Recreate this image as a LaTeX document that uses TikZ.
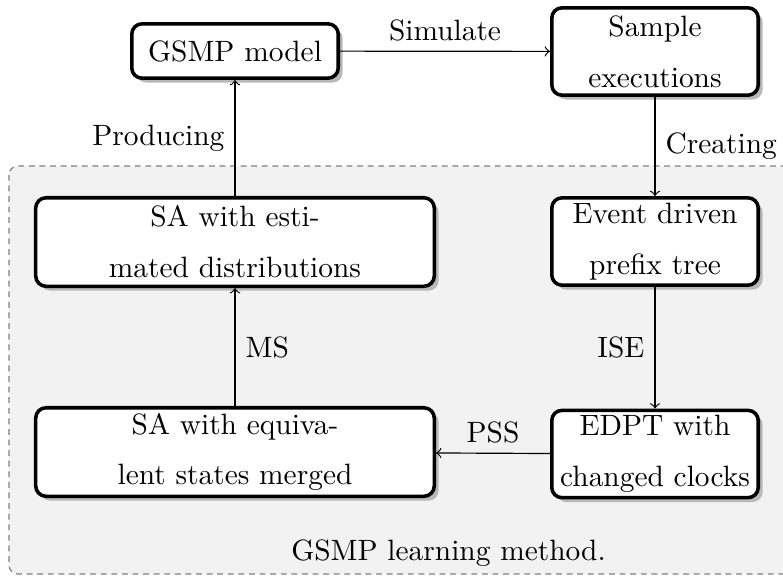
\documentclass[tikz,border=0pt]{standalone}
\usetikzlibrary{shadows}
\begin{document}
\begin{tikzpicture}[x=0.34pt,y=-0.34pt,
  box/.style={draw=black, line width=1.2pt, rounded corners=3.5pt, fill=white,
    align=center, inner sep=0pt,
    font=\fontsize{10}{17.3}\selectfont,
    drop shadow={shadow xshift=1.5pt, shadow yshift=-1.5pt, fill=black!28, opacity=1}},
  smallbox/.style={box, minimum width=70.2pt, minimum height=29.7pt},
  largebox/.style={box, minimum width=135.5pt, minimum height=30.1pt},
  conn/.style={->, line width=0.4pt},
  lbl/.style={font=\fontsize{10}{12}\selectfont, inner sep=3.4pt},
  group/.style={draw=gray, fill=gray!10, dash pattern=on 2pt off 1.6pt, line width=0.4pt, rounded corners=3pt}]
\useasboundingbox (0,0) rectangle (783,575);
\begin{scope}
\clip (0,0) rectangle (783,575);
\draw[group] (9,166) rectangle (810,574);
\end{scope}
\node[lbl] (title) at (448.5,553) {GSMP learning method.};

\node[box, minimum width=70.2pt, minimum height=18.5pt] (gsmp) at (235,51) {GSMP model};
\node[smallbox] (sample) at (655,51.5) {Sample\\executions};
\node[smallbox] (edpt) at (655,241.5) {Event driven\\prefix tree};
\node[smallbox] (chg) at (655,454) {EDPT with\\changed clocks};
\node[largebox] (merged) at (235,452) {SA with equiva-\\lent states merged};
\node[largebox] (est) at (235,242) {SA with esti-\\mated distributions};

\draw[conn] (gsmp) -- node[lbl, above] (l1) {Simulate} (sample);
\draw[conn] (sample) -- node[lbl, right] (l2) {Creating} (edpt);
\draw[conn] (edpt) -- node[lbl, left] (l3) {ISE} (chg);
\draw[conn] (chg) -- node[lbl, above] (l4) {PSS} (merged);
\draw[conn] (merged) -- node[lbl, right] (l5) {MS} (est);
\draw[conn] (est) -- node[lbl, left] (l6) {Producing} (gsmp);
\end{tikzpicture}
\end{document}
